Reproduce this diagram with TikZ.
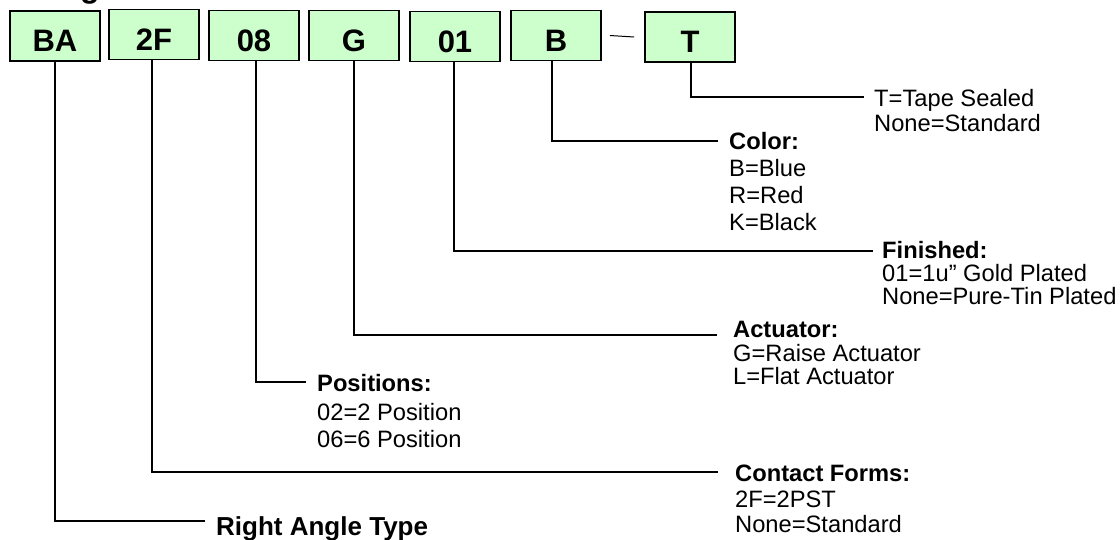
\documentclass[tikz,border=0pt]{standalone}
\usepackage{fontspec}
\setmainfont{Liberation Sans}
\definecolor{boxgreen}{HTML}{CCFFCC}
\tikzset{
  codebox/.style={draw=black, line width=1.8pt, fill=boxgreen, minimum width=90pt,
    inner sep=0pt, text height=40.7pt, text depth=9.3pt,
    font=\fontsize{31}{31}\selectfont\bfseries},
  lead/.style={line width=1.6pt, draw=black},
  desc/.style={anchor=base west, inner sep=0pt, font=\fontsize{23.7}{25}\selectfont},
  head/.style={anchor=base west, inner sep=0pt, font=\fontsize{23.7}{25}\selectfont\bfseries},
  bighead/.style={anchor=base west, inner sep=0pt, font=\fontsize{26}{28}\selectfont\bfseries},
}
\begin{document}
\begin{tikzpicture}[x=1pt,y=-1pt]
\useasboundingbox (0,0) rectangle (1120,539);
\begin{scope}
  \clip (0,0) rectangle (1120,539);
  \node[anchor=base, inner sep=0pt, font=\fontsize{32}{32}\selectfont\bfseries] (ttl) at (90,-2.7) {g};
\end{scope}

% code boxes
\node[codebox] (ba) at (55,36) {BA};
\node[codebox] (f2) at (154,34.5) {2F};
\node[codebox] (p08) at (254,35.5) {08};
\node[codebox] (g) at (354,35.5) {G};
\node[codebox] (c01) at (455,36.5) {01};
\node[codebox] (b) at (556,35.5) {B};
\node[codebox] (t) at (690,37) {T};
\draw[line width=1pt] ([xshift=8pt]b.east) -- ([xshift=-10pt]t.west);

% leader end points
\coordinate (eT) at (864,97);
\coordinate (eB) at (718,141);
\coordinate (e01) at (873,251);
\coordinate (eG) at (717,335);
\coordinate (e08) at (306,382);
\coordinate (e2F) at (718,472);
\coordinate (eBA) at (205,521);

\draw[lead] ([xshift=1pt]t.south) |- (eT);
\draw[lead] ([xshift=-4pt]b.south) |- (eB);
\draw[lead] ([xshift=-1pt]c01.south) |- (e01);
\draw[lead] (g.south) |- (eG);
\draw[lead] ([xshift=2pt]p08.south) |- (e08);
\draw[lead] ([xshift=-2pt]f2.south) |- (e2F);
\draw[lead] (ba.south) |- (eBA);

% descriptions
\node[desc] (t1) at (874,106) {T=Tape Sealed};
\node[desc] (t2) at (874,131) {None=Standard};

\node[head] (b0) at (729,149) {Color:};
\node[desc] (b1) at (729,176) {B=Blue};
\node[desc] (b2) at (729,203) {R=Red};
\node[desc] (b3) at (729,230) {K=Black};

\node[head] (f0) at (882,258) {Finished:};
\node[desc] (f1) at (882,281) {01=1u” Gold Plated};
\node[desc] (fx) at (882,304) {None=Pure-Tin Plated};

\node[head] (a0) at (733,337) {Actuator:};
\node[desc] (a1) at (733,361) {G=Raise Actuator};
\node[desc] (a2) at (733,384) {L=Flat Actuator};

\node[head] (q0) at (317,391) {Positions:};
\node[desc] (q1) at (317,420) {02=2 Position};
\node[desc] (q2) at (317,447) {06=6 Position};

\node[head] (k0) at (735,481) {Contact Forms:};
\node[desc] (k1) at (735,507) {2F=2PST};
\node[desc] (k2) at (735,532) {None=Standard};

\node[bighead] (r0) at (216,535) {Right Angle Type};
\end{tikzpicture}
\end{document}
